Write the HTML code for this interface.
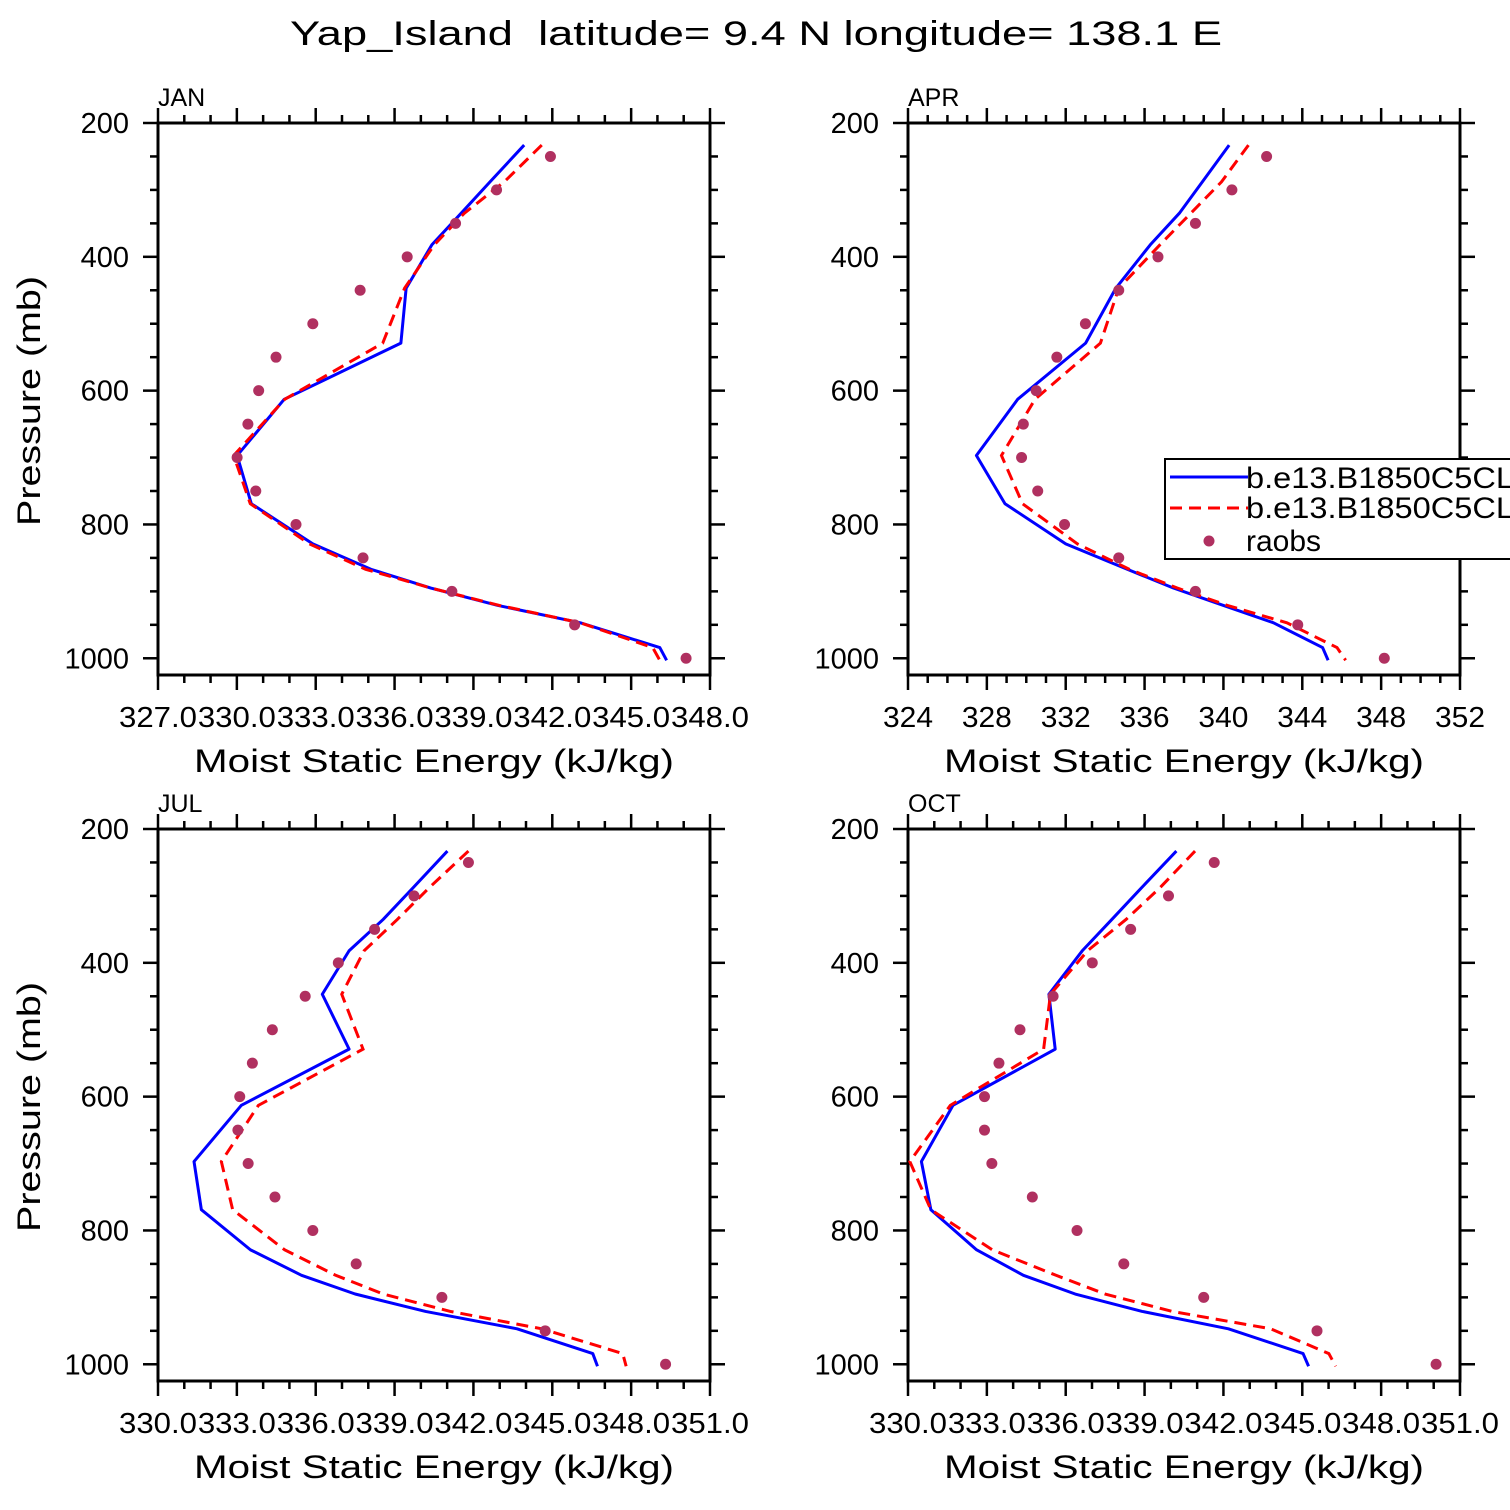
<!DOCTYPE html>
<html><head><meta charset="utf-8"><style>
html,body{margin:0;padding:0;background:#fff;}
svg{display:block;}
text{font-family:"Liberation Sans",sans-serif;fill:#000;}
</style></head><body>
<svg id="fig" width="1510" height="1510" viewBox="0 0 1510 1510" xmlns="http://www.w3.org/2000/svg">
<text x="756" y="45" font-size="34" text-anchor="middle" textLength="932" lengthAdjust="spacingAndGlyphs">Yap_Island&#160; latitude= 9.4 N longitude= 138.1 E</text>
</svg>
<script>
const levels = [233,288,335,382,447,529,613,697,769,829,867,895,921,947,984,1003];
const raobLevels = [250,300,350,400,450,500,550,600,650,700,750,800,850,900,950,1000];

const janBlue = [340.93,339.63,338.53,337.42,336.44,336.24,331.80,330.01,330.55,332.89,335.10,337.38,339.93,343.07,346.09,346.35];
const janRed = [341.60,340.17,338.65,337.51,336.38,335.55,331.82,329.88,330.51,332.76,334.90,337.38,339.99,343.07,345.82,346.09];
const janRaobs = [341.93,339.88,338.32,336.48,334.69,332.89,331.49,330.83,330.42,330.01,330.72,332.25,334.80,338.18,342.85,347.09];

const aprBlue = [340.29,338.93,337.76,336.29,334.54,333.01,329.56,327.47,328.92,332.00,335.12,337.46,340.00,342.54,345.03,345.31];
const aprRed = [341.27,339.90,338.34,336.78,334.69,333.76,330.44,328.74,329.81,332.59,335.22,337.66,340.20,343.22,345.76,346.20];
const aprRaobs = [342.19,340.43,338.58,336.68,334.69,333.00,331.55,330.50,329.85,329.76,330.58,331.94,334.69,338.58,343.77,348.16];

const julBlue = [341.01,339.70,338.57,337.27,336.25,337.27,333.17,331.37,331.65,333.52,335.46,337.50,340.18,343.66,346.54,346.72];
const julRed = [341.81,340.31,339.11,337.84,336.99,337.80,333.82,332.41,332.84,334.82,336.76,338.57,341.12,344.60,347.68,347.81];
const julRaobs = [341.81,339.74,338.24,336.86,335.60,334.35,333.59,333.11,333.04,333.43,334.45,335.89,337.54,340.80,344.73,349.31];

const octBlue = [340.21,338.88,337.76,336.63,335.36,335.60,331.71,330.51,330.87,332.61,334.39,336.36,338.91,342.19,345.03,345.24];
const octRed = [340.92,339.58,338.30,336.83,335.42,335.16,331.61,330.07,330.87,333.21,335.63,337.50,340.05,343.80,346.01,346.27];
const octRaobs = [341.65,339.91,338.47,337.01,335.52,334.26,333.46,332.91,332.91,333.19,334.73,336.43,338.21,341.25,345.56,350.09];

const yTicks = [200,400,600,800,1000];
const janXTicks = ["327.0","330.0","333.0","336.0","339.0","342.0","345.0","348.0"];
const aprXTicks = ["324","328","332","336","340","344","348","352"];
const julXTicks = ["330.0","333.0","336.0","339.0","342.0","345.0","348.0","351.0"];
const octXTicks = ["330.0","333.0","336.0","339.0","342.0","345.0","348.0","351.0"];

const NS = "http://www.w3.org/2000/svg";
const svg = document.getElementById("fig");
function mk(tag, attrs, parent) {
  const e = document.createElementNS(NS, tag);
  for (const k in attrs) e.setAttribute(k, attrs[k]);
  (parent || svg).appendChild(e);
  return e;
}

function panel(cfg) {
  const g = mk("g", {});
  
  
  const L = cfg.left, R = cfg.left + 552, T = cfg.top, B = cfg.top + 552;
  const xs = v => L + (v - cfg.xmin) / (cfg.xmax - cfg.xmin) * 552;
  const ys = p => T + (p - 200) / 825 * 552;
  const tg = mk("g", {stroke: "#000", "stroke-width": 2.5}, g);
  
  
  for (let p = 200; p <= 1000; p += 50) {
    const major = p % 200 === 0;
    const len = major ? 15 : 8;
    mk("line", {x1: L - len, y1: ys(p), x2: L, y2: ys(p)}, tg);
    mk("line", {x1: R, y1: ys(p), x2: R + len, y2: ys(p)}, tg);
  }
  for (let v = cfg.xmin; v <= cfg.xmax + 0.001; v += 1) {
    const major = Math.round(v - cfg.xmin) % cfg.xstep === 0;
    const len = major ? 15 : 8;
    mk("line", {x1: xs(v), y1: B, x2: xs(v), y2: B + len}, tg);
    mk("line", {x1: xs(v), y1: T - len, x2: xs(v), y2: T}, tg);
  }
  const box = mk("rect", {x: L, y: T, width: 552, height: 552, fill: "none", stroke: "#000", "stroke-width": 3}, g);
  
  
  yTicks.forEach(p => {
    const t = mk("text", {x: L - 29, y: ys(p) + 10, "font-size": 29, "text-anchor": "end"}, g);
    
    
    t.textContent = String(p);
  });
  cfg.xticks.forEach((s, i) => {
    const v = cfg.xmin + i * cfg.xstep;
    const t = mk("text", {x: xs(v), y: B + 52, "font-size": 29, "text-anchor": "middle"}, g);
    t.setAttribute("textLength", s.length > 3 ? 78 : 50);
    t.setAttribute("lengthAdjust", "spacingAndGlyphs");
    
    
    t.textContent = s;
  });
  const xt = mk("text", {x: L + 276, y: B + 97, "font-size": 32, "text-anchor": "middle", textLength: 480, lengthAdjust: "spacingAndGlyphs"}, g);
  
  
  xt.textContent = "Moist Static Energy (kJ/kg)";
  if (cfg.ytitle) {
    const cy = T + 278;
    const yt = mk("text", {x: 40, y: cy, "font-size": 32, "text-anchor": "middle", transform: "rotate(-90 40 " + cy + ")", textLength: 250, lengthAdjust: "spacingAndGlyphs"}, g);
    
    
    yt.textContent = "Pressure (mb)";
  }
  const lab = mk("text", {x: L, y: T - 17, "font-size": 25}, g);
  
  
  lab.textContent = cfg.label;
  const bp = mk("polyline", {points: cfg.blue.map((v, i) => xs(v) + "," + ys(levels[i])).join(" "), fill: "none", stroke: "#0000ff", "stroke-width": 3, "stroke-linejoin": "round"}, g);
  
  
  const rp = mk("polyline", {points: cfg.red.map((v, i) => xs(v) + "," + ys(levels[i])).join(" "), fill: "none", stroke: "#ff0000", "stroke-width": 3, "stroke-dasharray": "12 7"}, g);
  
  
  cfg.raobs.forEach((v, i) => {
    const c = mk("circle", {cx: xs(v), cy: ys(raobLevels[i]), r: 5.5, fill: "#b03060"}, g);
    
    
  });
}

panel({name: "jan", label: "JAN", left: 158, top: 123, xmin: 327, xmax: 348, xstep: 3, xticks: janXTicks, blue: janBlue, red: janRed, raobs: janRaobs, ytitle: true});
panel({name: "apr", label: "APR", left: 908, top: 123, xmin: 324, xmax: 352, xstep: 4, xticks: aprXTicks, blue: aprBlue, red: aprRed, raobs: aprRaobs, ytitle: false});
panel({name: "jul", label: "JUL", left: 158, top: 829, xmin: 330, xmax: 351, xstep: 3, xticks: julXTicks, blue: julBlue, red: julRed, raobs: julRaobs, ytitle: true});
panel({name: "oct", label: "OCT", left: 908, top: 829, xmin: 330, xmax: 351, xstep: 3, xticks: octXTicks, blue: octBlue, red: octRed, raobs: octRaobs, ytitle: false});

const lg = mk("g", {});


const lr = mk("rect", {x: 1165, y: 459, width: 360, height: 100, fill: "#fff", stroke: "#000", "stroke-width": 2}, lg);


const l1 = mk("line", {x1: 1170, y1: 477, x2: 1248, y2: 477, stroke: "#0000ff", "stroke-width": 3}, lg);


const l2 = mk("line", {x1: 1170, y1: 508, x2: 1248, y2: 508, stroke: "#ff0000", "stroke-width": 3, "stroke-dasharray": "12 7"}, lg);


const l3 = mk("circle", {cx: 1209, cy: 541, r: 5.5, fill: "#b03060"}, lg);


[["b.e13.B1850C5CL", 488, 'legend-model-1-label'], ["b.e13.B1850C5CL", 518, 'legend-model-2-label'], ["raobs", 551, 'legend-raobs-label']].forEach(a => {
  const t = mk("text", {x: 1246, y: a[1], "font-size": 30}, lg);
  if (a[0].length > 5) { t.setAttribute("textLength", 268); t.setAttribute("lengthAdjust", "spacingAndGlyphs"); }
  
  
  t.textContent = a[0];
});
</script>
</body></html>
